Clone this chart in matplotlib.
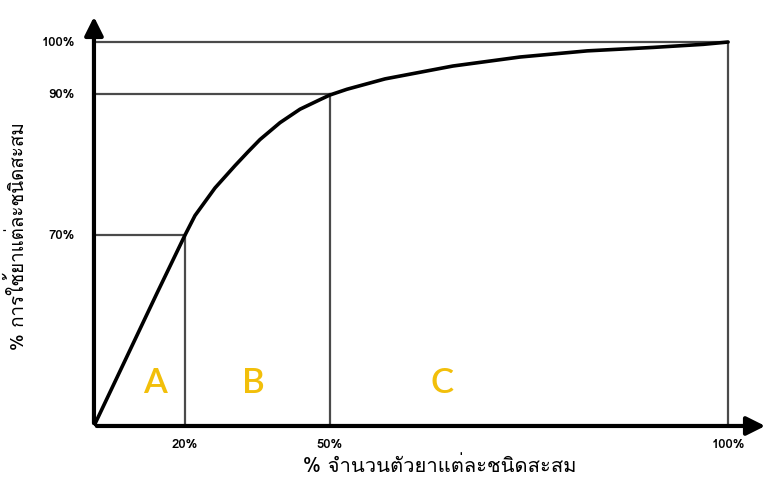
import matplotlib
matplotlib.use('Agg')
from matplotlib import pyplot as plt

# schematic curve (position units: 0-100 along each axis)
curve_x = [0, 4.57, 9.94, 14.35, 15.93, 19.09, 22.24, 24.29, 26.18, 29.34,
           32.49, 35.65, 37.2, 39.9, 45.9, 56.6, 67.2, 77.8, 88.2, 96.1, 100]
curve_y = [0, 15.9, 34.6, 49.7, 54.8, 62.0, 67.8, 71.4, 74.6, 79.0,
           82.5, 85.0, 86.2, 87.7, 90.4, 93.75, 96.1, 97.7, 98.6, 99.4, 100]

x_tick_pos = [14.35, 37.2, 100]
x_tick_labels = ['20%', '50%', '100%']
y_tick_pos = [49.7, 86.5, 100]
y_tick_labels = ['70%', '90%', '100%']

classes = ['A', 'B', 'C']
class_x = [9.6, 25.1, 54.9]
class_y = [11.5, 11.5, 11.5]

xlabel = '% จำนวนตัวยาแต่ละชนิดสะสม'
ylabel = '% การใช้ยาแต่ละชนิดสะสม'

thai_fam = ['Loma', 'Noto Sans Thai Looped', 'DejaVu Sans']

fig = plt.figure(figsize=(7.69, 4.81), dpi=100)
ax = fig.add_axes([0.1222, 0.1123, 0.8765, 0.8565])
ax.set_xlim(0, 106.3)
ax.set_ylim(0, 107.3)
ax.axis('off')

grid_c = '#4a4a4a'
# guide lines
for xp, yp in zip(x_tick_pos, y_tick_pos):
    ax.plot([xp, xp], [0, yp], color=grid_c, lw=1.6)
    ax.plot([0, xp], [yp, yp], color=grid_c, lw=1.6)

ax.plot(curve_x, curve_y, color='black', lw=2.6, solid_capstyle='round', solid_joinstyle='round')

# axes arrows
ax.annotate('', xy=(0, 107.3), xytext=(0, 0),
            arrowprops=dict(arrowstyle='-|>', lw=3, color='black', mutation_scale=28))
ax.annotate('', xy=(106.3, 0), xytext=(0, 0),
            arrowprops=dict(arrowstyle='-|>', lw=3, color='black', mutation_scale=28))

for xp, lab in zip(x_tick_pos, x_tick_labels):
    ax.text(xp, -4.7, lab, ha='center', va='center', fontsize=9.5, weight='bold', family=thai_fam)
for yp, lab in zip(y_tick_pos, y_tick_labels):
    ax.text(-3, yp, lab, ha='right', va='center', fontsize=9.5, weight='bold', family=thai_fam)

for cx, cy, c in zip(class_x, class_y, classes):
    ax.text(cx, cy, c, ha='center', va='center', fontsize=25, color='#f2bf0a',
            family='Lato', weight='semibold')

fig.text(0.572, 0.03, xlabel, ha='center', va='center', fontsize=14.5, family=thai_fam)
fig.text(0.023, 0.509, ylabel, ha='center', va='center', fontsize=13.5, rotation=90, family=thai_fam)

fig.savefig('out.png', dpi=100)
